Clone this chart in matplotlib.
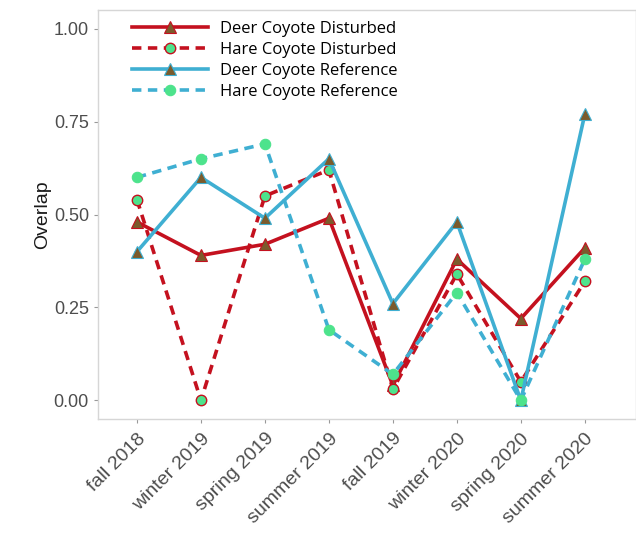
import matplotlib
matplotlib.use("Agg")
import matplotlib.pyplot as plt
import numpy as np

plt.rcParams["font.family"] = ["Liberation Sans", "DejaVu Sans"]

seasons = ["fall 2018", "winter 2019", "spring 2019", "summer 2019",
           "fall 2019", "winter 2020", "spring 2020", "summer 2020"]

deer_disturbed = [0.48, 0.39, 0.42, 0.49, 0.04, 0.38, 0.22, 0.41]
hare_disturbed = [0.54, 0.00, 0.55, 0.62, 0.03, 0.34, 0.05, 0.32]
deer_reference = [0.40, 0.60, 0.49, 0.65, 0.26, 0.48, 0.00, 0.77]
hare_reference = [0.60, 0.65, 0.69, 0.19, 0.07, 0.29, 0.00, 0.38]

red = "#C4111F"
blue = "#3FAFD2"
brown = "#7B5B2C"
green = "#4DE38C"

fig = plt.figure(figsize=(6.36, 5.33), dpi=100)
ax = fig.add_axes([0.154, 0.214, 0.846, 0.767])

x = np.arange(len(seasons))
dash = (0, (2.6, 1.8))

# deer series: solid lines with triangles, hare series: dashed with circles
ax.plot(x, deer_disturbed, color=red, lw=2.6, marker="^", ms=9,
        mfc=brown, mec=red, mew=0.8, label="Deer Coyote Disturbed")
ax.plot(x, hare_disturbed, color=red, lw=2.6, ls=dash, marker="o", ms=7.5,
        mfc=green, mec=red, mew=1.0, label="Hare Coyote Disturbed")
ax.plot(x, deer_reference, color=blue, lw=2.6, marker="^", ms=9,
        mfc=brown, mec=blue, mew=0.8, label="Deer Coyote Reference")
ax.plot(x, hare_reference, color=blue, lw=2.6, ls=dash, marker="o", ms=7.5,
        mfc=green, mec=green, mew=0.8, label="Hare Coyote Reference")

ax.set_xlim(-0.61, 7.8)
ax.set_ylim(-0.05, 1.05)
ax.set_xticks(x)
ax.set_xticklabels(seasons, rotation=45, ha="right", rotation_mode="anchor",
                   fontsize=14, color="#4D4D4D")
ax.set_yticks([0, 0.25, 0.5, 0.75, 1.0])
ax.set_yticklabels(["0.00", "0.25", "0.50", "0.75", "1.00"], fontsize=13, color="#4D4D4D")
ax.tick_params(axis="both", color="#999999", length=3, width=0.8)
ax.tick_params(axis="x", pad=5)
ax.set_ylabel("Overlap", fontsize=14, labelpad=2, color="#1A1A1A")

for s in ax.spines.values():
    s.set_color("#D6D6D6")
    s.set_linewidth(1.0)

leg = ax.legend(loc="upper left", bbox_to_anchor=(0.035, 1.01), frameon=False,
                handlelength=4.6, labelspacing=0.3, handletextpad=0.7,
                prop={"family": "Open Sans", "size": 12})

fig.savefig("out.png", dpi=100)
